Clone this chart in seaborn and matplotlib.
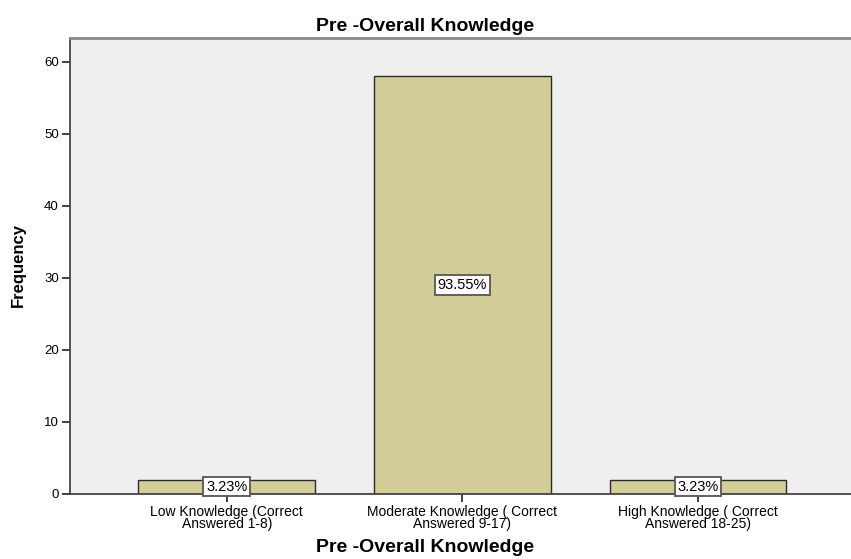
import matplotlib
matplotlib.use("Agg")
import matplotlib.pyplot as plt
import seaborn as sns
import pandas as pd

# data
categories = ["Low Knowledge (Correct\nAnswered 1-8)",
              "Moderate Knowledge ( Correct\nAnswered 9-17)",
              "High Knowledge ( Correct\nAnswered 18-25)"]
frequency = [2, 58, 2]
percent_labels = ["3.23%", "93.55%", "3.23%"]
y_ticks = [0, 10, 20, 30, 40, 50, 60]

df = pd.DataFrame({"category": categories, "frequency": frequency})

sns.set_style("white")
plt.rcParams["font.family"] = ["Liberation Sans", "DejaVu Sans"]
plt.rcParams["text.color"] = "black"
plt.rcParams["axes.labelcolor"] = "black"
plt.rcParams["xtick.labelcolor"] = "black"
plt.rcParams["ytick.labelcolor"] = "black"

fig = plt.figure(figsize=(8.51, 5.59), dpi=100)
ax = fig.add_axes([0.0823, 0.1163, 0.9177, 0.8157])
ax.set_facecolor("#efefef")

sns.barplot(data=df, x="category", y="frequency", color="#d3ce98",
            width=0.75, edgecolor="#2b2b2b", linewidth=1.0,
            saturation=1, ax=ax)

# percentage boxes in the middle of each bar
for i, (val, lab) in enumerate(zip(frequency, percent_labels)):
    ax.text(i, val / 2, lab, ha="center", va="center", fontsize=10.5,
            color="black", zorder=5,
            bbox=dict(boxstyle="square,pad=0.18", facecolor="white",
                      edgecolor="#606060", linewidth=1.4))

ax.set_xlim(-0.665, 2.65)
ax.set_ylim(0, 63.3)
ax.set_yticks(y_ticks)
ax.tick_params(axis="both", direction="out", length=6, width=1.3,
               color="#333333", bottom=True, left=True, pad=2)
ax.tick_params(axis="y", labelsize=9.5)
ax.tick_params(axis="x", labelsize=10)
for lbl in ax.get_xticklabels():
    lbl.set_linespacing(0.8)

for side in ["left", "bottom"]:
    ax.spines[side].set_color("#444444")
    ax.spines[side].set_linewidth(1.3)
ax.spines["top"].set_color("#8a8a8a")
ax.spines["top"].set_linewidth(2)
ax.spines["right"].set_visible(False)

# title and x label are centred on the figure, not the axes
ax.set_title("Pre -Overall Knowledge", fontsize=14, fontweight="bold",
             x=0.455, y=1.025, va="center", pad=0, color="black")
ax.set_xlabel("Pre -Overall Knowledge", fontsize=14, fontweight="bold")
ax.xaxis.label.set_va("center")
ax.xaxis.set_label_coords(0.455, -0.117)
ax.set_ylabel("Frequency", fontsize=12, fontweight="bold")
ax.yaxis.label.set_va("center")
ax.yaxis.set_label_coords(-0.0666, 0.502)

fig.savefig("out.png", dpi=100)
